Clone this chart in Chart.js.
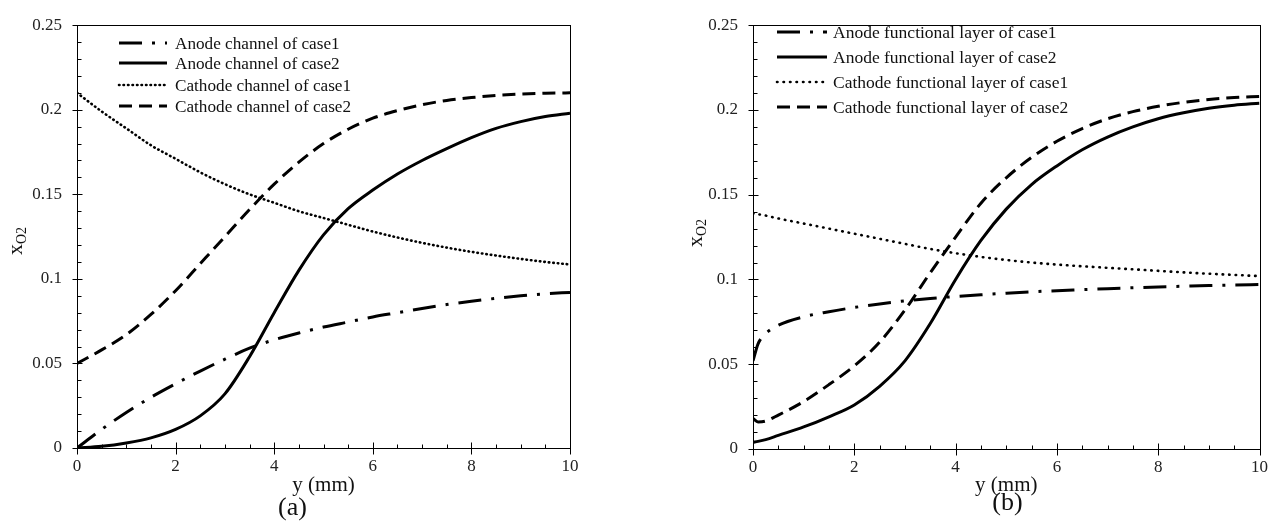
<!DOCTYPE html>
<html><head><meta charset="utf-8">
<script src="https://cdn.jsdelivr.net/npm/chart.js@4"></script>
<style>
html,body{margin:0;padding:0;background:#fff;}
#wrap{position:relative;width:1276px;height:525px;overflow:hidden;}
.panel{position:absolute;top:0;width:638px;height:525px;}
</style></head>
<body>
<div id="wrap">
  <div class="panel" style="left:0"><canvas id="ca" width="638" height="525"></canvas></div>
  <div class="panel" style="left:638px"><canvas id="cb" width="638" height="525"></canvas></div>
</div>
<script>
// ---------- data ----------
const xTickValues = [0, 2, 4, 6, 8, 10];
const xTickLabels = ['0', '2', '4', '6', '8', '10'];
const yTickValues = [0, 0.05, 0.1, 0.15, 0.2, 0.25];
const yTickLabels = ['0', '0.05', '0.1', '0.15', '0.2', '0.25'];

// panel (a)
const xA = [0, 0.5, 1, 1.5, 2, 2.5, 3, 3.5, 4, 4.5, 5, 5.5, 6, 6.5, 7, 7.5, 8, 8.5, 9, 9.5, 10];
const anodeChannelCase1 = [0, 0.011, 0.021, 0.030, 0.038, 0.0455, 0.0525, 0.059, 0.064, 0.068, 0.0715, 0.0745, 0.0775, 0.080, 0.0825, 0.0848, 0.0868, 0.0885, 0.090, 0.0912, 0.092];
const anodeChannelCase2 = [0, 0.001, 0.003, 0.006, 0.011, 0.019, 0.032, 0.054, 0.080, 0.105, 0.126, 0.1415, 0.1525, 0.162, 0.170, 0.177, 0.1835, 0.189, 0.193, 0.196, 0.198];
const cathodeChannelCase1 = [0.210, 0.199, 0.189, 0.179, 0.171, 0.163, 0.156, 0.150, 0.145, 0.140, 0.136, 0.132, 0.128, 0.1245, 0.1213, 0.1185, 0.116, 0.1138, 0.1118, 0.110, 0.1085];
const cathodeChannelCase2 = [0.050, 0.058, 0.067, 0.079, 0.093, 0.109, 0.125, 0.141, 0.156, 0.169, 0.180, 0.1885, 0.195, 0.1995, 0.203, 0.2055, 0.2072, 0.2085, 0.2093, 0.2098, 0.210];
const labelsA = ['Anode channel of case1', 'Anode channel of case2', 'Cathode channel of case1', 'Cathode channel of case2'];

// panel (b)
const xB = [0, 0.1, 0.25, 0.5, 1, 1.5, 2, 2.5, 3, 3.5, 4, 4.5, 5, 5.5, 6, 6.5, 7, 7.5, 8, 8.5, 9, 9.5, 10];
const anodeLayerCase1 = [0.052, 0.062, 0.068, 0.073, 0.078, 0.081, 0.0835, 0.0856, 0.0874, 0.0888, 0.090, 0.091, 0.0919, 0.0927, 0.0934, 0.094, 0.0946, 0.0951, 0.0956, 0.096, 0.0964, 0.0967, 0.097];
const anodeLayerCase2 = [0.004, 0.0045, 0.0055, 0.008, 0.013, 0.019, 0.026, 0.037, 0.052, 0.074, 0.100, 0.123, 0.1415, 0.156, 0.167, 0.1765, 0.184, 0.190, 0.1948, 0.1983, 0.201, 0.2028, 0.204];
const cathodeLayerCase1 = [0.139, 0.1385, 0.1377, 0.136, 0.133, 0.130, 0.127, 0.124, 0.121, 0.118, 0.1155, 0.1133, 0.1115, 0.110, 0.1088, 0.1078, 0.1069, 0.106, 0.1051, 0.1042, 0.1034, 0.1027, 0.102];
const cathodeLayerCase2 = [0.018, 0.016, 0.0165, 0.020, 0.028, 0.038, 0.049, 0.063, 0.082, 0.104, 0.125, 0.145, 0.160, 0.172, 0.1815, 0.189, 0.1948, 0.199, 0.2022, 0.2045, 0.2062, 0.2073, 0.208];
const labelsB = ['Anode functional layer of case1', 'Anode functional layer of case2', 'Cathode functional layer of case1', 'Cathode functional layer of case2'];

// ---------- styles ----------
const FONT = '"Liberation Serif", "Times New Roman", serif';
const INK = '#111';

function dsStyle(kind, dottedDash) {
  if (kind === 'dashdot') return {borderWidth: 3, borderDash: [23, 10, 3, 10], borderCapStyle: 'butt'};
  if (kind === 'solid') return {borderWidth: 3, borderDash: [], borderCapStyle: 'butt'};
  if (kind === 'dotted') return {borderWidth: 2.6, borderDash: dottedDash, borderCapStyle: 'round'};
  return {borderWidth: 3, borderDash: [13, 7], borderCapStyle: 'butt'};
}

const decor = {
  id: 'decor',
  afterDraw(chart, args, o) {
    const ctx = chart.ctx, a = chart.chartArea;
    const xs = chart.scales.x, ys = chart.scales.y;
    ctx.save();
    // frame
    ctx.strokeStyle = '#000';
    ctx.lineWidth = 1;
    ctx.strokeRect(Math.round(a.left) + 0.5, Math.round(a.top) + 0.5, Math.round(a.right - a.left), Math.round(a.bottom - a.top));
    // x ticks
    ctx.beginPath();
    for (let k = 0; k <= 20; k++) {
      const v = k * 0.5;
      const px = Math.round(xs.getPixelForValue(v)) + 0.5;
      const b = Math.round(a.bottom) + 0.5;
      if (k % 4 === 0) { ctx.moveTo(px, b - 6); ctx.lineTo(px, b + 6); }
      else { ctx.moveTo(px, b - 4); ctx.lineTo(px, b); }
    }
    // y ticks
    for (let k = 0; k <= 25; k++) {
      const v = k * 0.01;
      const py = Math.round(ys.getPixelForValue(v)) + 0.5;
      const l = Math.round(a.left) + 0.5;
      if (k % 5 === 0) { ctx.moveTo(l - 5, py); ctx.lineTo(l + 5, py); }
      else { ctx.moveTo(l, py); ctx.lineTo(l + 4, py); }
    }
    ctx.stroke();

    // legend
    ctx.fillStyle = INK;
    ctx.font = o.legendFont + 'px ' + FONT;
    ctx.textBaseline = 'middle';
    ctx.textAlign = 'left';
    chart.data.datasets.forEach((d, i) => {
      const y = o.legendRows[i];
      ctx.save();
      ctx.strokeStyle = '#000';
      ctx.lineWidth = d.borderWidth;
      ctx.setLineDash(d.borderDash || []);
      ctx.lineCap = d.borderCapStyle || 'butt';
      ctx.beginPath();
      ctx.moveTo(o.legendX0, y);
      ctx.lineTo(o.legendX1, y);
      ctx.stroke();
      ctx.restore();
      ctx.fillText(d.label, o.legendTextX, y + 1);
    });

    // x title
    ctx.textBaseline = 'alphabetic';
    ctx.textAlign = 'center';
    ctx.font = '21px ' + FONT;
    ctx.fillText('y (mm)', (a.left + a.right) / 2, o.xTitleY);
    // panel label
    ctx.font = '26px ' + FONT;
    ctx.fillText(o.panel, o.panelX, o.panelY);

    // y title, rotated: x with subscript O2
    ctx.translate(o.yTitleX, o.yTitleY);
    ctx.rotate(-Math.PI / 2);
    ctx.textAlign = 'left';
    ctx.font = '22px ' + FONT;
    ctx.fillText('x', 0, 0);
    const w = ctx.measureText('x').width;
    ctx.font = '14px ' + FONT;
    ctx.fillText('O2', w, 4);
    ctx.restore();
  }
};

function makeChart(id, xs, series, labels, dotted, cfg) {
  const kinds = ['dashdot', 'solid', 'dotted', 'dashed'];
  const datasets = series.map((vals, i) => Object.assign({
    label: labels[i],
    data: xs.map((x, j) => ({x: x, y: vals[j]})),
    borderColor: '#000',
    pointRadius: 0,
    fill: false,
    cubicInterpolationMode: 'monotone'
  }, dsStyle(kinds[i], dotted)));
  const tickFont = {family: FONT, size: 17};
  return new Chart(document.getElementById(id), {
    type: 'line',
    data: {datasets: datasets},
    options: {
      responsive: false,
      animation: false,
      devicePixelRatio: 1,
      layout: {padding: {left: 0, top: cfg.top, right: cfg.padRight, bottom: 0}},
      plugins: {
        legend: {display: false},
        tooltip: {enabled: false},
        decor: cfg.decor
      },
      scales: {
        x: {
          type: 'linear', min: 0, max: 10,
          grid: {display: false, drawTicks: false},
          border: {display: false},
          afterBuildTicks: s => { s.ticks = xTickValues.map(v => ({value: v})); },
          ticks: {padding: 8, color: '#222', font: tickFont, maxRotation: 0,
                  callback: (v, i) => xTickLabels[i]},
          afterFit: s => { s.height = cfg.xh; }
        },
        y: {
          type: 'linear', min: 0, max: 0.25,
          grid: {display: false, drawTicks: false},
          border: {display: false},
          afterBuildTicks: s => { s.ticks = yTickValues.map(v => ({value: v})); },
          ticks: {padding: 15, color: '#222', font: tickFont,
                  callback: (v, i) => yTickLabels[i]},
          afterFit: s => { s.width = cfg.yw; }
        }
      }
    },
    plugins: [decor]
  });
}

makeChart('ca', xA, [anodeChannelCase1, anodeChannelCase2, cathodeChannelCase1, cathodeChannelCase2], labelsA, [0.5, 4],
  {top: 16, padRight: 68, xh: 77, yw: 77,
   decor: {legendRows: [43, 63, 85, 106], legendX0: 119, legendX1: 167, legendTextX: 175, legendFont: 17.2,
           xTitleY: 491, panel: '(a)', panelX: 292.5, panelY: 515, yTitleX: 22, yTitleY: 255}});

makeChart('cb', xB, [anodeLayerCase1, anodeLayerCase2, cathodeLayerCase1, cathodeLayerCase2], labelsB, [0.5, 6],
  {top: 17, padRight: 14, xh: 76, yw: 115,
   decor: {legendRows: [32, 57, 82, 107], legendX0: 139, legendX1: 189, legendTextX: 195, legendFont: 17.5,
           xTitleY: 491, panel: '(b)', panelX: 369.5, panelY: 510, yTitleX: 64, yTitleY: 247}});
</script>
</body></html>
